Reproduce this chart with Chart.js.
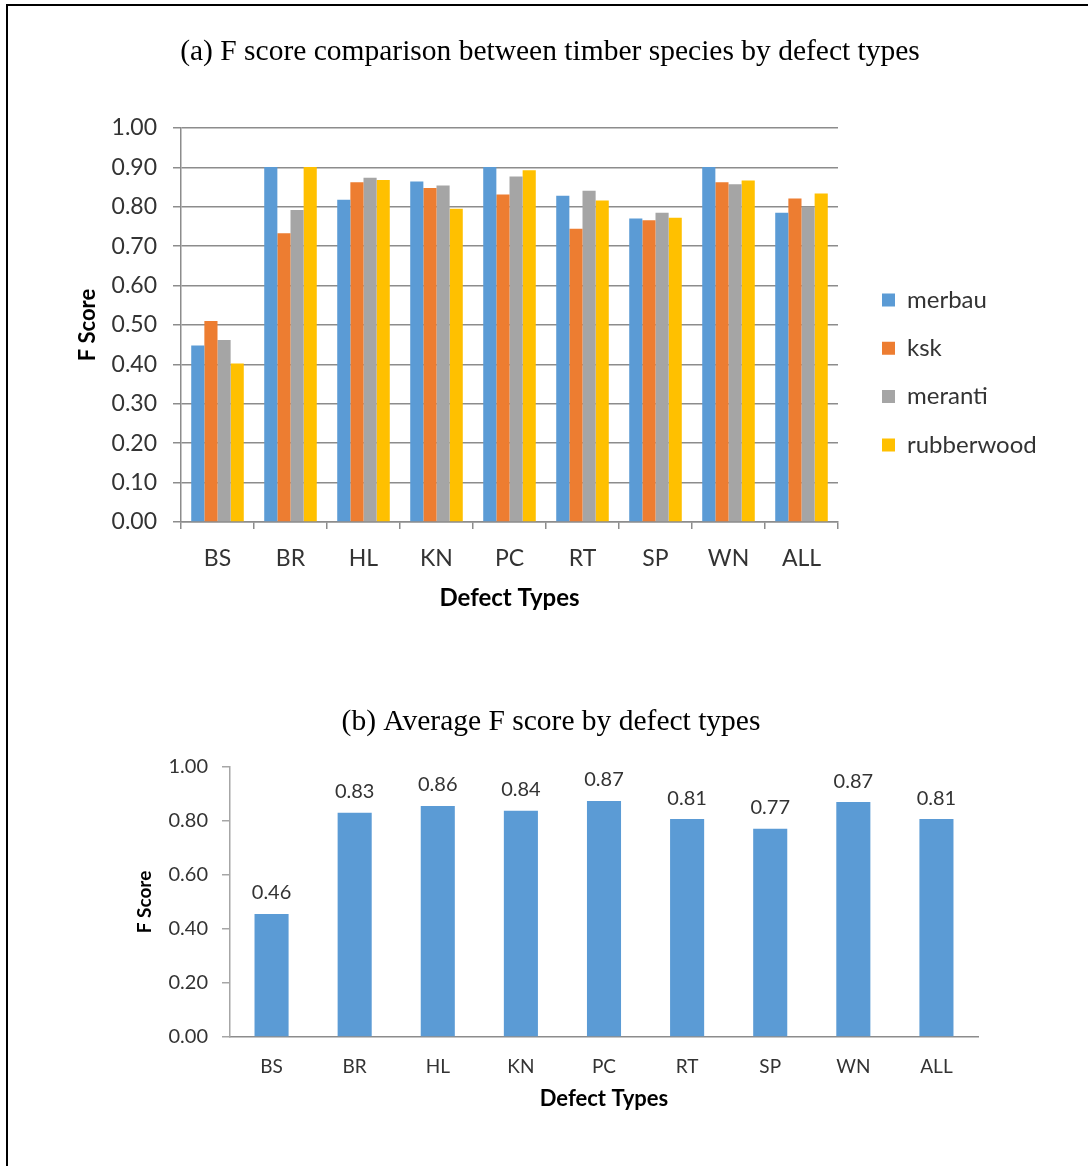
<!DOCTYPE html>
<html>
<head>
<meta charset="utf-8">
<script src="https://cdn.jsdelivr.net/npm/chart.js@4.4.1/dist/chart.umd.min.js"></script>
<style>
html,body{margin:0;padding:0;background:#fff;}
#frame{position:absolute;left:0;top:0;width:1088px;height:1166px;overflow:hidden;}
#frame:before{content:'';position:absolute;left:6px;top:4px;right:0;bottom:0;border-left:2px solid #000;border-top:2px solid #000;}
canvas{position:absolute;left:0;}
#chartSpecies{top:0;}
#chartAverage{top:640px;}
</style>
</head>
<body>
<div id="frame">
<canvas id="chartSpecies" width="1088" height="640"></canvas>
<canvas id="chartAverage" width="1088" height="526"></canvas>
</div>
<script>
// values
const defectTypes = ['BS','BR','HL','KN','PC','RT','SP','WN','ALL'];
const merbau     = [0.448,0.901,0.818,0.864,0.901,0.828,0.770,0.901,0.785];
const ksk        = [0.510,0.733,0.862,0.848,0.831,0.744,0.766,0.862,0.821];
const meranti    = [0.462,0.792,0.874,0.854,0.877,0.841,0.785,0.857,0.800];
const rubberwood = [0.402,0.901,0.868,0.795,0.893,0.816,0.772,0.867,0.834];
const avgScore   = [0.456,0.831,0.856,0.838,0.874,0.807,0.771,0.870,0.807];

const speciesNames = ['merbau','ksk','meranti','rubberwood'];
const speciesColours = ['#5B9BD5','#ED7D31','#A5A5A5','#FFC000'];
const speciesData = [merbau, ksk, meranti, rubberwood];

Chart.defaults.font.family = 'Lato';
Chart.defaults.color = '#333';

// moves title / legend boxes after the layout has been worked out
const place = {
  id: 'place',
  afterLayout(chart, args, opts) {
    const t = chart.titleBlock;
    if (t && opts.titleCenter) {
      const half = opts.titleCenter;
      t.left = 0; t.right = half * 2; t.width = half * 2;
    }
    const lg = chart.legend;
    if (lg && opts.legendLeft !== undefined) {
      lg.left = opts.legendLeft; lg.right = chart.width;
      lg.top = opts.legendTop; lg.bottom = chart.height;
      lg.width = lg.right - lg.left; lg.height = lg.bottom - lg.top;
    }
  }
};

const barValueLabels = {
  id: 'barValueLabels',
  afterDatasetsDraw(chart) {
    const ctx = chart.ctx;
    const meta = chart.getDatasetMeta(0);
    ctx.save();
    ctx.font = '20px Lato';
    ctx.fillStyle = '#333';
    ctx.textAlign = 'center';
    ctx.textBaseline = 'middle';
    meta.data.forEach((bar, i) => {
      ctx.fillText(avgScore[i].toFixed(2), bar.x, bar.y - 21);
    });
    ctx.restore();
  }
};

function LoadSpecies(){
  new Chart(document.getElementById('chartSpecies'), {
    type: 'bar',
    data: {
      labels: defectTypes,
      datasets: speciesNames.map((n, i) => ({
        label: n,
        data: speciesData[i],
        backgroundColor: speciesColours[i],
        borderWidth: 0,
        categoryPercentage: 0.72,
        barPercentage: 1
      }))
    },
    options: {
      responsive: false,
      animation: false,
      layout: {padding: {left: 0, right: 250, top: 0, bottom: 0}},
      plugins: {
        title: {
          display: true,
          text: '(a) F score comparison between timber species by defect types',
          color: '#000',
          font: {family: 'Liberation Serif', size: 29.5, weight: 'normal'},
          padding: {top: 34.3, bottom: 58.3}
        },
        legend: {
          display: true,
          position: 'chartArea',
          align: 'start',
          labels: {boxWidth: 13, boxHeight: 13, padding: 24.3, color: '#333', font: {size: 24}}
        },
        tooltip: {enabled: false},
        place: {titleCenter: 550, legendLeft: 857.7, legendTop: 263.7}
      },
      scales: {
        x: {
          afterFit: s => { s.height = 118; },
          grid: {offset: true, drawOnChartArea: false, tickLength: 7, color: '#8c8c8c', lineWidth: 1.5},
          border: {color: '#8c8c8c', width: 1.5},
          ticks: {padding: 16, font: {size: 23}, color: '#333'},
          title: {display: true, text: 'Defect Types', color: '#000', font: {size: 24, weight: 'bold'}, padding: {top: 0, bottom: 27.6}}
        },
        y: {
          min: 0, max: 1,
          afterFit: s => { s.width = 181; },
          grid: {color: '#8c8c8c', lineWidth: 1.5, tickLength: 8},
          border: {color: '#8c8c8c', width: 1.5},
          ticks: {stepSize: 0.1, padding: 16, font: {size: 23}, color: '#333', callback: v => v.toFixed(2)},
          title: {display: true, text: 'F Score', color: '#000', font: {size: 22, weight: 'bold'}, padding: {top: 75, bottom: 0}}
        }
      }
    },
    plugins: [place]
  });
}

function LoadAverage(){
  new Chart(document.getElementById('chartAverage'), {
    type: 'bar',
    data: {
      labels: defectTypes,
      datasets: [{
        label: 'Average',
        data: avgScore,
        backgroundColor: '#5B9BD5',
        borderWidth: 0,
        categoryPercentage: 1,
        barPercentage: 0.41
      }]
    },
    options: {
      responsive: false,
      animation: false,
      layout: {padding: {left: 0, right: 110, top: 0, bottom: 0}},
      plugins: {
        title: {
          display: true,
          text: '(b) Average F score by defect types',
          color: '#000',
          font: {family: 'Liberation Serif', size: 29.5, weight: 'normal'},
          padding: {top: 64.3, bottom: 27.3}
        },
        legend: {display: false},
        tooltip: {enabled: false},
        place: {titleCenter: 551}
      },
      scales: {
        x: {
          afterFit: s => { s.height = 129; },
          grid: {display: false},
          border: {color: '#8c8c8c', width: 1.5},
          ticks: {padding: 10.6, font: {size: 19}, color: '#333'},
          title: {display: true, text: 'Defect Types', color: '#000', font: {size: 22, weight: 'bold'}, padding: {top: 0, bottom: 53.8}}
        },
        y: {
          min: 0, max: 1,
          afterFit: s => { s.width = 230; },
          grid: {drawOnChartArea: false, tickLength: 8, color: '#a6a6a6', lineWidth: 1.5},
          border: {color: '#a6a6a6', width: 1.5},
          ticks: {stepSize: 0.2, padding: 14, font: {size: 20}, color: '#333', callback: v => v.toFixed(2)},
          title: {display: true, text: 'F Score', color: '#000', font: {size: 19, weight: 'bold'}, padding: {top: 133.6, bottom: 0}}
        }
      }
    },
    plugins: [place, barValueLabels]
  });
}

LoadSpecies();
LoadAverage();
</script>
</body>
</html>
